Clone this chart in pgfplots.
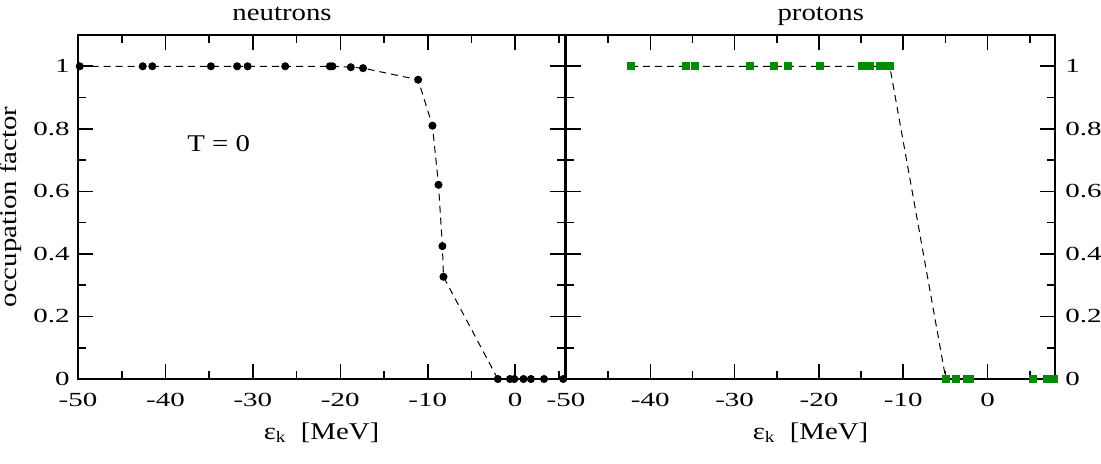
\documentclass[border=0pt]{standalone}
\usepackage{fontspec}
\setmainfont{Liberation Serif}[FakeStretch=1.2]
\newfontfamily\tickfont{Liberation Serif}[FakeStretch=1.45]
\usepackage{pgfplots}
\pgfplotsset{compat=1.18}
\definecolor{pgreen}{RGB}{0,140,0}
\begin{document}
\begin{tikzpicture}
\pgfplotsset{
 common/.style={
  scale only axis, height=172pt,
  ymin=0, ymax=1.1, xmin=-50,
  ytick={0,0.2,0.4,0.6,0.8,1}, yticklabels={0,0.2,0.4,0.6,0.8,1},
  minor ytick={0.1,0.3,0.5,0.7,0.9},
  xtick={-50,-40,-30,-20,-10,0}, xticklabels={-50,-40,-30,-20,-10,0},
  minor xtick={-45,-35,-25,-15,-5,5},
  tick align=inside, major tick length=7.5pt, minor tick length=4pt,
  every tick/.style={line width=0.8pt, black},
  axis line style={line width=1pt},
  ticklabel style={font=\tickfont\fontsize{10}{12}\selectfont},
  xticklabel style={anchor=north, inner sep=0pt, yshift=-7pt},
  xlabel={ε\textsubscript{k}\ \ [MeV]},
  label style={font=\fontsize{12}{14}\selectfont},
  xlabel style={at={(axis description cs:0.5,0)}, anchor=base, yshift=-30pt},
  every axis title/.style={font=\fontsize{12}{14}\selectfont, anchor=base},
  clip=false,
 }
}
\begin{axis}[common, width=243.5pt, xmax=5.7,
  yticklabel style={anchor=east, inner sep=0pt, xshift=-4pt},
  ylabel={occupation factor},
  ylabel style={at={([xshift=-30.5pt]axis description cs:0,0.5)}, anchor=base},
  title={neutrons},
  title style={at={([yshift=7.2pt]axis description cs:0.419,1)}},
]
\addplot[black, line width=0.5pt, dash pattern=on 3.5pt off 2.5pt,
  mark=*, mark size=1.75pt, mark options={solid, fill=black}]
  coordinates {
  (-49.8,1) (-42.6,1) (-41.5,1) (-34.8,1) (-31.8,1) (-30.6,1) (-26.3,1)
  (-21.2,1) (-20.9,1) (-18.8,0.997) (-17.4,0.994) (-11.1,0.957)
  (-9.46,0.81) (-8.77,0.621) (-8.32,0.425) (-8.2,0.327)
  (-1.98,0) (-0.6,0) (-0.1,0) (0.95,0) (1.8,0) (3.3,0) (5.5,0)
  };
\node[font=\fontsize{12}{14}\selectfont] at (axis cs:-33.9,0.754) {T = 0};
\end{axis}
\begin{axis}[common, width=244.5pt, at={(244pt,0)}, xmax=8,
  yticklabel pos=right, ytick pos=both,
  yticklabel style={anchor=west, inner sep=0pt, xshift=5pt},
  title={protons},
  title style={at={([yshift=7.2pt]axis description cs:0.521,1)}},
]
\addplot[black, line width=0.5pt, dash pattern=on 3.5pt off 2.5pt,
  mark=square*, mark size=1.75pt, mark options={solid, fill=pgreen, draw=pgreen}]
  coordinates {
  (-42.3,1) (-35.8,1) (-34.7,1) (-28.2,1) (-25.3,1) (-23.7,1) (-19.9,1)
  (-14.9,1) (-14.4,1) (-14.0,1) (-12.8,1) (-12.1,1) (-11.6,1)
  (-4.95,0) (-3.8,0) (-2.4,0) (-2.1,0) (5.4,0) (7.0,0) (7.5,0) (7.9,0)
  };
\end{axis}
\pgfresetboundingbox
\path (-39pt,-42pt) rectangle (511.5pt,189.5pt);
\end{tikzpicture}
\end{document}
